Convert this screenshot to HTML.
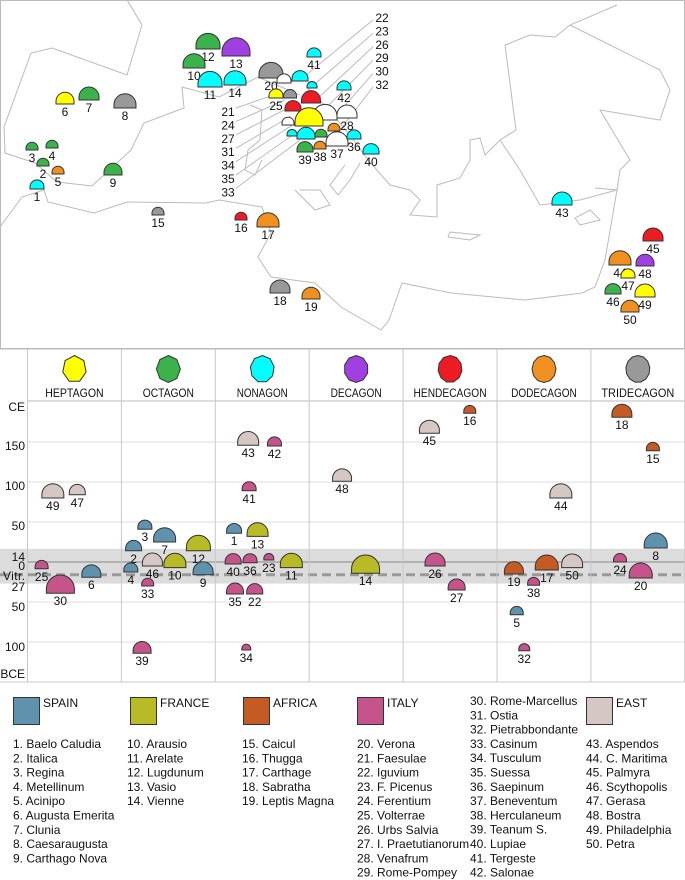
<!DOCTYPE html>
<html><head><meta charset="utf-8"><style>
body{margin:0;background:#fff}
svg{display:block;font-family:"Liberation Sans",sans-serif}
text{font-size:12px;fill:#111}
</style></head><body>
<svg id="s" width="685" height="880" viewBox="0 0 685 880">
<g id="map">
<rect x="0.5" y="0.5" width="684" height="348" fill="#fff" stroke="#bbb"/>
<g fill="none" stroke="#bbb" stroke-width="1">
<polyline points="127,0 142,25 127,75 52,48 31,53 4,127 5,153 35,163 57,182 92,186 131,150 144,123 184,108 182,87 219,97 258,77 300,95"/>
<polyline points="0,227 22,197 44,190 48,202 94,213 127,202 206,203 219,200 262,207 271,233 258,257 271,277 315,283 341,307 381,330 389,320 402,283 451,293 525,300 582,293 595,287 605,260 617,190 595,188"/>
<polyline points="320,100 350,135 368,160 390,185 410,190 420,200 410,215 437,217 437,185 460,178 470,160 470,140 480,138 485,155 500,140 516,130 505,45 530,35 555,37 570,25 617,5"/>
<polyline points="500,140 520,170 540,205 580,200 617,190 620,170 630,160 600,110 660,120 670,90 660,70 600,40 570,25"/>
<polyline points="345,165 330,185 338,195 350,180 360,163"/>
<polyline points="295,190 315,210 330,205 320,190 300,190"/>
<polyline points="448,237 470,240 480,235 450,232 448,237"/>
<polyline points="250,105 262,110 260,140 248,150 245,170 255,175 262,160"/>
<polyline points="580,225 600,220 590,210 575,218 580,225"/>
</g>
<g stroke="#bbb" stroke-width="1" id="leaders"></g>
<g id="mapmarks"></g>
</g>
<g id="chart"></g>
<g id="legend"></g>
</svg>
<script>
const NS="http://www.w3.org/2000/svg";
function mk(tag,attrs,parent,txt){const e=document.createElementNS(NS,tag);for(const k in attrs)e.setAttribute(k,attrs[k]);if(txt!=null)e.textContent=txt;parent.appendChild(e);return e;}

const categories=["HEPTAGON","OCTAGON","NONAGON","DECAGON","HENDECAGON","DODECAGON","TRIDECAGON"];
const catColors=["#ffff00","#3cb34a","#00ffff","#a040e0","#ed1c24","#f0901e","#999999"];
const sides=[7,8,9,10,11,12,13];
const regionNames=["SPAIN","FRANCE","AFRICA","ITALY","EAST"];
const regionColors=["#5f93ad","#b8bb26","#c45a24","#c4548a","#d5c8c4"];
const yTicks=["CE","150","100","50","14","0","Vitr.","27","50","100","BCE"];
const yTickVals=[194,145,95,45,6,-5,-17.5,-31,-56,-106,-140];

const ids=   [25,30,6,49,47, 3,7,2,12,46,10,4,9,33,39, 43,42,41,1,13,40,36,23,11,35,22,34, 48,14, 16,45,26,27, 44,19,17,50,38,5,32, 18,15,8,24,20];
const cols=  [0,0,0,0,0, 1,1,1,1,1,1,1,1,1,1, 2,2,2,2,2,2,2,2,2,2,2,2, 3,3, 4,4,4,4, 5,5,5,5,5,5,5, 6,6,6,6,6];
const slot=  [0.15,0.35,0.68,0.27,0.53, 0.25,0.46,0.13,0.82,0.33,0.57,0.10,0.87,0.28,0.22, 0.35,0.63,0.36,0.2,0.45,0.19,0.37,0.57,0.81,0.21,0.42,0.33, 0.35,0.6, 0.71,0.28,0.34,0.57, 0.68,0.18,0.53,0.8,0.39,0.21,0.29, 0.33,0.66,0.69,0.31,0.53];
const dates= [-8.5,-39,-19,80,84, 41,25,14,14,-5,-7,-12.5,-16,-30,-114, 146,145,89,36,32,-2.5,-1,2.5,-7,-40,-40,-110, 101,-14, 186,161,-5,-35, 80,-15,-10,-7,-29,-66,-111, 181,139,17.5,0,-20];
const sizes= [6.5,14,9.5,11,8, 7,11,8,12,10,11,7,10,6,9, 10.5,7,7,7.5,10.5,8,7,5,11,8.5,8,4.5, 9.5,14, 6,10,10,8.5, 11,9.5,11.5,10.5,6,6.5,5.5, 10,6.5,11.5,6.5,11.5];
const regions=[3,3,0,4,4, 0,0,0,1,4,1,0,0,3,3, 4,3,3,0,1,3,3,3,1,3,3,3, 4,1, 2,4,3,3, 4,2,2,4,3,0,3, 2,2,0,3,3];

const mIds=[12,13,10,11,14,20,41,6,7,8,3,4,2,5,1,9,15,16,17,43,45,44,48,47,46,49,50,18,19,25,0,0,0,0,42,0,0,0,28,0,0,0,0,0,0,37,36,39,38,40];
const mCat=[1,3,1,2,2,6,2,0,1,6,1,1,1,5,2,1,6,4,5,2,4,5,3,0,1,0,5,6,5,0,6,-1,2,2,2,4,4,-1,-1,0,-1,5,2,2,1,-1,2,1,5,2];
const mX=[208,236,194,210,235,271,314,65,89,125,32,52,43,58,37,113,158,241,268,562,653,620,645,628,613,645,630,280,311,276,290,284,300,312,344,311,293,325,347,309,288,334,292,306,321,337,354,305,320,371];
const mY=[49,56,68,87,85,78,57,104,100,108,150,148,166,174,189,175,215,220,227,205,241,265,266,278,294,297,312,293,299,98,98,83,81,88,90,103,111,120,118,126,125,131,136,139,137,146,139,152,149,154];
const mR=[12,14,11,12,11,12,7,9,10,11,6,6,6,6,7,9,6,6,11,10,10,11,9,7,8,10,9,10,9,7,6.5,7,8,5,7,9.5,8,12,10,14,6,6,5,9,6,11,7,8,6,8];

function dome(parent,cx,by,r,fill,name){
  const h=r*0.3;
  const d=`M${cx-r},${by} L${cx-r},${by-h} A${r},${r} 0 0 1 ${cx+r},${by-h} L${cx+r},${by} Z`;
  const p=mk('path',{d:d,fill:fill,stroke:'#333','stroke-width':1},parent);
  
  
  return p;
}

const mm=document.getElementById('mapmarks');
for(let i=0;i<mIds.length;i++){
  const fill=mCat[i]<0?'#fff':catColors[mCat[i]];
  dome(mm,mX[i],mY[i],mR[i],fill,'map-marker-'+i);
  if(mIds[i]>0){const t=mk('text',{x:mX[i],y:mY[i]+12,'text-anchor':'middle'},mm,String(mIds[i]));
    
    }
}
const leftLab=[21,24,27,31,34,35,33], rightLab=[22,23,26,29,30,32];
const ld=document.getElementById('leaders');
leftLab.forEach((n,i)=>{const y=116+i*13.4;
  const t=mk('text',{x:228,y:y,'text-anchor':'middle'},mm,String(n));
  
  
  mk('line',{x1:236,y1:y-8,x2:282+i*3,y2:92+i*8},ld);});
rightLab.forEach((n,i)=>{const y=22+i*13.4;
  const t=mk('text',{x:382,y:y,'text-anchor':'middle'},mm,String(n));
  
  
  mk('line',{x1:373,y1:y-2,x2:300+i*8,y2:80+i*10},ld);});

const C=document.getElementById('chart');
const colX0=27.5,colW=93.9,topY=349,hdrB=401;
const yScale=v=>562-v*0.8;
const band=mk('rect',{x:0,y:yScale(14)-2,width:685,height:yScale(-27)-yScale(14)+2,fill:'#dcdcdc'},C);


[150,100,50,-50,-100].forEach(v=>mk('line',{x1:colX0,x2:685,y1:yScale(v),y2:yScale(v),stroke:'#ddd'},C));
const zl=mk('line',{x1:colX0,x2:685,y1:yScale(0),y2:yScale(0),stroke:'#888'},C);


const vl=mk('line',{x1:0,x2:685,y1:yScale(-16),y2:yScale(-16),stroke:'#999','stroke-width':3,'stroke-dasharray':'9,5'},C);


mk('line',{x1:0,x2:685,y1:topY,y2:topY,stroke:'#bbb'},C);
mk('line',{x1:colX0,x2:685,y1:hdrB,y2:hdrB,stroke:'#bbb'},C);
mk('line',{x1:0,x2:685,y1:682,y2:682,stroke:'#ccc'},C);
for(let c=0;c<=7;c++)mk('line',{x1:colX0+c*colW,x2:colX0+c*colW,y1:topY,y2:682,stroke:'#c8c8c8'},C);
yTicks.forEach((t,i)=>{const y=yScale(yTickVals[i]);
  const e=mk('text',{x:25,y:y+4,'text-anchor':'end','font-size':'12.5'},C,t);
  if(t==="Vitr.")e.setAttribute('textLength','22');
  
  });
categories.forEach((c,i)=>{const cx=colX0+(i+0.5)*colW,cy=369,rx=12,ry=13.5,n=sides[i];
  let pts=[];for(let k=0;k<n;k++){const a=-Math.PI/2+k*2*Math.PI/n;pts.push((cx+rx*Math.cos(a)).toFixed(1)+','+(cy+ry*Math.sin(a)).toFixed(1));}
  const p=mk('polygon',{points:pts.join(' '),fill:catColors[i],stroke:'#333'},C);
  
  
  const t=mk('text',{x:cx,y:397,'text-anchor':'middle','font-size':'12.5',textLength:c.length*7.3,lengthAdjust:'spacingAndGlyphs'},C,c);
  
  });
for(let i=0;i<ids.length;i++){
  const cx=colX0+(cols[i]+slot[i])*colW,by=yScale(dates[i]);
  dome(C,cx,by,sizes[i],regionColors[regions[i]],'point-'+ids[i]);
  const t=mk('text',{x:cx,y:by+12,'text-anchor':'middle'},C,String(ids[i]));
  
  
}

const L=document.getElementById('legend');
const legX=[13,130,243,357,586];
regionNames.forEach((r,i)=>{const s=mk('rect',{x:legX[i]+0.5,y:697.5,width:26,height:27,fill:regionColors[i],stroke:'#333'},L);
  
  
  const t=mk('text',{x:legX[i]+30,y:707},L,r);
  
  });
const legendNames=[["1. Baelo Caludia","2. Italica","3. Regina","4. Metellinum","5. Acinipo","6. Augusta Emerita","7. Clunia","8. Caesaraugusta","9. Carthago Nova"],
["10. Arausio","11. Arelate","12. Lugdunum","13. Vasio","14. Vienne"],
["15. Caicul","16. Thugga","17. Carthage","18. Sabratha","19. Leptis Magna"],
["20. Verona","21. Faesulae","22. Iguvium","23. F. Picenus","24. Ferentium","25. Volterrae","26. Urbs Salvia","27. I. Praetutianorum","28. Venafrum","29. Rome-Pompey"],
["30. Rome-Marcellus","31. Ostia","32. Pietrabbondante","33. Casinum","34. Tusculum","35. Suessa","36. Saepinum","37. Beneventum","38. Herculaneum","39. Teanum S.","40. Lupiae","41. Tergeste","42. Salonae"],
["43. Aspendos","44. C. Maritima","45. Palmyra","46. Scythopolis","47. Gerasa","48. Bostra","49. Philadelphia","50. Petra"]];
const nX=[13,127,242,357,470,586],nY=[748,748,748,748,705,748];
legendNames.forEach((col,c)=>col.forEach((n,j)=>{const t=mk('text',{x:nX[c],y:nY[c]+j*14.3,'font-size':'12'},L,n);
  
  }));
</script>
</body></html>
